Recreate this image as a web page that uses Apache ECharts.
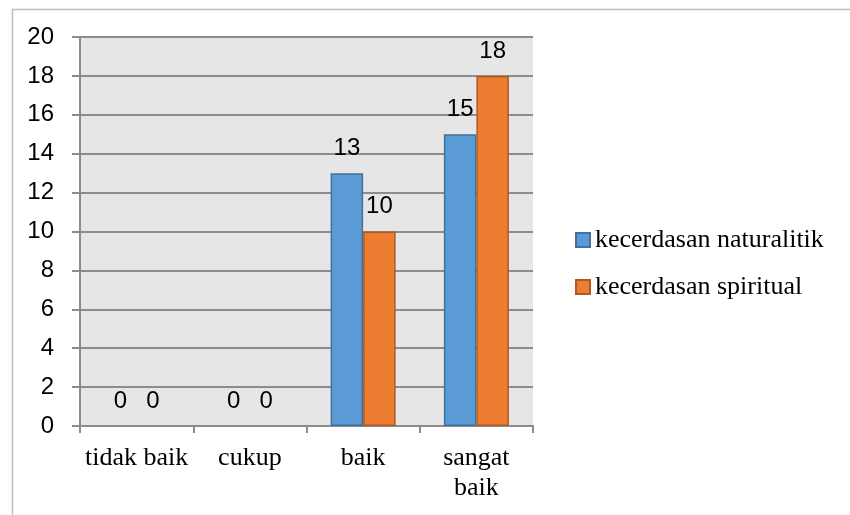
<!DOCTYPE html>
<html>
<head>
<meta charset="utf-8">
<script src="https://cdn.jsdelivr.net/npm/echarts@6/dist/echarts.min.js"></script>
<style>
  html, body { margin: 0; padding: 0; background: #ffffff; }
  #chart { width: 850px; height: 515px; }
</style>
</head>
<body>
<div id="chart"></div>
<script>
// Categories and values
const categories = ['tidak baik', 'cukup', 'baik', 'sangat\nbaik'];
const naturalitik = [0, 0, 13, 15];
const spiritual = [0, 0, 10, 18];
const seriesNames = ['kecerdasan naturalitik', 'kecerdasan spiritual'];
const yTicks = { min: 0, max: 20, interval: 2 };

const sansFont = '"Liberation Sans", Arial, sans-serif';
const serifFont = '"Liberation Serif", "Times New Roman", serif';
const gridGray = '#8c8c8c';

const chart = echarts.init(document.getElementById('chart'), null, { renderer: 'canvas' });

const labelStyle = {
  show: true,
  position: 'top',
  distance: 13,
  color: '#000',
  fontFamily: sansFont,
  fontSize: 24
};

// zero-height bars get no outline so nothing shows along the axis
function barItems(values, fill, edge) {
  return values.map(v => ({
    value: v,
    itemStyle: { color: fill, borderColor: edge, borderWidth: v > 0 ? 1.5 : 0 }
  }));
}

chart.setOption({
  backgroundColor: '#ffffff',
  animation: false,
  graphic: [{
    type: 'rect',
    left: 10, top: 7,
    shape: { width: 900, height: 600 },
    style: { fill: 'none', stroke: '#bdbdbd', lineWidth: 1.5 },
    silent: true
  }],
  grid: {
    left: 80, right: 317, top: 37, bottom: 89,
    show: true,
    backgroundColor: '#e6e6e6',
    borderWidth: 0
  },
  legend: {
    orient: 'vertical',
    left: 575, top: 227,
    padding: 0,
    itemWidth: 14, itemHeight: 14,
    itemGap: 21,
    icon: 'rect',
    textStyle: { fontFamily: serifFont, fontSize: 26, lineHeight: 26, color: '#000' },
    data: seriesNames
  },
  xAxis: {
    type: 'category',
    data: categories,
    axisLine: { show: true, lineStyle: { color: gridGray, width: 2 } },
    axisTick: { show: true, alignWithLabel: false, length: 7, lineStyle: { color: gridGray, width: 2 } },
    axisLabel: {
      color: '#000', fontFamily: serifFont, fontSize: 26, margin: 17,
      lineHeight: 30, interval: 0
    },
    splitLine: { show: false }
  },
  yAxis: {
    type: 'value',
    min: yTicks.min, max: yTicks.max, interval: yTicks.interval,
    axisLine: { show: true, lineStyle: { color: gridGray, width: 2 } },
    axisTick: { show: true, length: 8, lineStyle: { color: gridGray, width: 2 } },
    axisLabel: { color: '#000', fontFamily: sansFont, fontSize: 24, margin: 26 },
    splitLine: { show: true, lineStyle: { color: gridGray, width: 2 } }
  },
  series: [
    {
      name: seriesNames[0],
      type: 'bar',
      data: barItems(naturalitik, '#5b9bd5', '#41719c'),
      barWidth: 32.5,
      barGap: '0%',
      itemStyle: { color: '#5b9bd5', borderColor: '#41719c', borderWidth: 1.5 },
      label: labelStyle
    },
    {
      name: seriesNames[1],
      type: 'bar',
      data: barItems(spiritual, '#ed7d31', '#ae5a21'),
      barWidth: 32.5,
      barGap: '0%',
      itemStyle: { color: '#ed7d31', borderColor: '#ae5a21', borderWidth: 1.5 },
      label: labelStyle
    }
  ]
});
</script>
</body>
</html>
